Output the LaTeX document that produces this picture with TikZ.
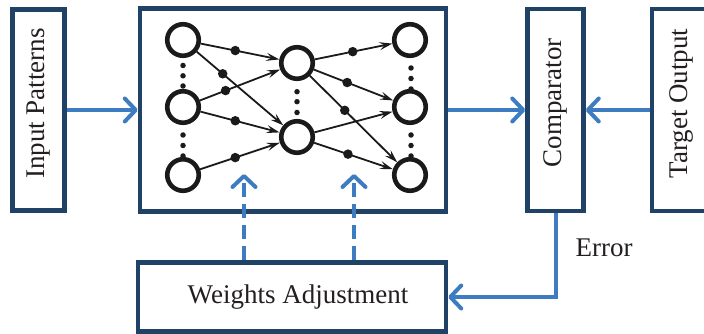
\documentclass[tikz,border=0pt]{standalone}
\usepackage{fontspec}
\setmainfont{Liberation Serif}
\usetikzlibrary{arrows.meta}
\definecolor{navy}{HTML}{1F4266}
\definecolor{flow}{HTML}{3D7CC0}
\definecolor{ink}{HTML}{1A1A1A}
\definecolor{txt}{HTML}{231F20}

\begin{document}
\begin{tikzpicture}[x=1pt,y=-1pt,
  box/.style={draw=navy,line width=4.5pt,fill=white,inner sep=0pt},
  lbl/.style={text=txt,font=\fontsize{27}{32}\selectfont,inner sep=0pt},
  neuron/.style={circle,draw=ink,line width=4.6pt,minimum size=31.5pt,inner sep=0pt},
  wdot/.style={circle,fill=ink,minimum size=9.5pt,inner sep=0pt},
  vdot/.style={circle,fill=ink,minimum size=5.5pt,inner sep=0pt},
  syn/.style={draw=ink,line width=1.8pt,-{Stealth[length=13pt,width=8pt,inset=5pt]}},
  flowarrow/.style={draw=flow,line width=4pt,-{Straight Barb[length=11pt,width=23pt,round]}},
  adjust/.style={flowarrow,dash pattern=on 14pt off 7pt},
]
\useasboundingbox (0,0) rectangle (704,334);

% blocks
\node[box,minimum width=52pt,minimum height=201pt] (inp) at (38.5,110) {};
\node[box,minimum width=306pt,minimum height=202.5pt] (net) at (293,110) {};
\node[box,minimum width=56pt,minimum height=201.5pt] (cmp) at (555.5,110) {};
\node[box,minimum width=60pt,minimum height=201.5pt] (tgt) at (682,110) {};
\node[box,minimum width=308pt,minimum height=69pt] (wa) at (292,297) {};

% block labels
\node[lbl,rotate=90] (inptxt) at (38.5,103.5) {Input Patterns};
\node[lbl,rotate=90] (cmptxt) at (555.5,103) {Comparator};
\node[lbl,rotate=90] (tgttxt) at (681,103.5) {Target Output};
\node[lbl] (watxt) at (298,297) {Weights Adjustment};
\node[lbl] (errtxt) at (604,248) {Error};

% neurons
\node[neuron] (a1) at (183,40) {};
\node[neuron] (a2) at (183,107) {};
\node[neuron] (a3) at (183,175) {};
\node[neuron] (b1) at (297,63) {};
\node[neuron] (b2) at (297,137) {};
\node[neuron] (c1) at (410,40) {};
\node[neuron] (c2) at (410,107) {};
\node[neuron] (c3) at (410,175) {};

% vertical ellipses between neurons
\foreach \y [count=\i] in {65.5,75.8,86,135,145.5,156}
  \node[vdot] (da\i) at (183,\y) {};
\foreach \y [count=\i] in {91.7,101.7,112.5}
  \node[vdot] (db\i) at (297,\y) {};
\foreach \y [count=\i] in {68,78.5,89,135,145.5,156}
  \node[vdot] (dc\i) at (411,\y) {};

% weighted connections
\draw[syn] (a1) -- node[wdot,pos=0.44] (w1) {} (b1);
\draw[syn] (a1) -- node[wdot,pos=0.30] (w2) {} (b2);
\draw[syn] (a2) -- node[wdot,pos=0.32] (w3) {} (b1);
\draw[syn] (a2) -- node[wdot,pos=0.44] (w4) {} (b2);
\draw[syn] (a3) -- node[wdot,pos=0.44] (w5) {} (b2);
\draw[syn] (b1) -- node[wdot,pos=0.49] (w6) {} (c1);
\draw[syn] (b1) -- node[wdot,pos=0.42] (w7) {} (c2);
\draw[syn] (b1) -- node[wdot,pos=0.40] (w8) {} (c3);
\draw[syn] (b2) -- (c2);
\draw[syn] (b2) -- node[wdot,pos=0.43] (w9) {} (c3);

% signal flow
\draw[flowarrow] (inp.east) -- (net.west);
\draw[flowarrow] (net.east) -- (cmp.west);
\draw[flowarrow] (tgt.west) -- (cmp.east);
\draw[flowarrow] (cmp.south) |- (wa.east);

% weight updates
\coordinate (u1) at (244,174);
\coordinate (u2) at (354,174);
\draw[adjust] (wa.north -| u1) -- (u1);
\draw[adjust] (wa.north -| u2) -- (u2);
\end{tikzpicture}
\end{document}
